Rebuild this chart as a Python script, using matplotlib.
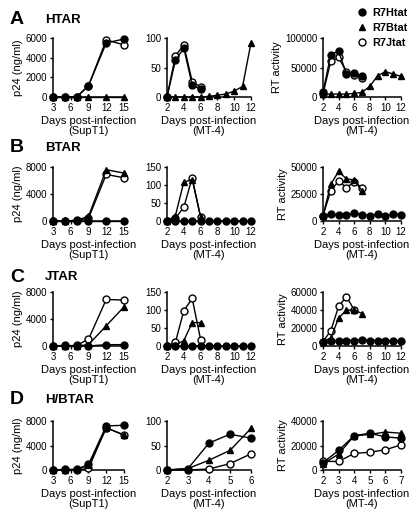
import matplotlib
matplotlib.use('Agg')
import matplotlib.pyplot as plt
from matplotlib.lines import Line2D

plt.rcParams['font.family'] = ['Liberation Sans', 'DejaVu Sans']

# ---- data ----
days_supt1 = [3, 5, 7, 9, 12, 15]
days_mt4 = [2, 3, 4, 5, 6, 7, 8, 9, 10, 11, 12]
days_short = [2, 3, 4, 5, 6]
days_rt7 = [2, 3, 4, 5, 6, 7]

# HTAR
htar_supt1_h = [0, 0, 0, 1150, 5500, 5900]
htar_supt1_b = [0, 0, 0, 0, 0, 0]
htar_supt1_j = [0, 0, 0, 1150, 5800, 5300]
htar_mt4_h = [0, 62, 83, 20, 13]
htar_mt4_j = [0, 70, 88, 26, 17]
htar_mt4_b = [0, 0, 0, 0, 0, 1, 3, 5, 10, 18, 92]
htar_rt_h = [8000, 72000, 78000, 39000, 41000, 35000]
htar_rt_j = [5000, 61000, 67000, 43000, 38000, 33000]
htar_rt_b = [5000, 5000, 5000, 5000, 6000, 8000, 18000, 36000, 43000, 39000, 35000]

# BTAR
btar_supt1_h = [0, 0, 0, 0, 0, 0]
btar_supt1_b = [0, 0, 100, 700, 7600, 7100]
btar_supt1_j = [0, 0, 100, 400, 6900, 6400]
btar_mt4_h = [0, 0, 0, 0, 0, 0, 0, 0, 0, 0, 0]
btar_mt4_b = [0, 15, 108, 115, 12]
btar_mt4_j = [0, 8, 38, 120, 10]
btar_rt_h = [5000, 6500, 5500, 5500, 7000, 6000, 5000, 6500, 4500, 6500, 6000]
btar_rt_b = [5000, 34000, 46000, 39000, 38000, 28000]
btar_rt_j = [5000, 28000, 37000, 31000, 36000, 31000]

# JTAR
jtar_supt1_h = [0, 100, 0, 0, 200, 200]
jtar_supt1_b = [0, 0, 0, 200, 3000, 5800]
jtar_supt1_j = [0, 0, 100, 1000, 6900, 6800]
jtar_mt4_h = [0, 0, 0, 0, 0, 0, 0, 0, 0, 0, 0]
jtar_mt4_b = [0, 3, 15, 65, 65]
jtar_mt4_j = [0, 10, 98, 132, 18]
jtar_rt_h = [5000, 6000, 6000, 6000, 6000, 7000, 6000, 6000, 6000, 5500, 6000]
jtar_rt_b = [5000, 9000, 31000, 40000, 40000, 36000]
jtar_rt_j = [5000, 17000, 44000, 55000, 40000]

# H/BTAR
hbtar_supt1_h = [0, 100, 100, 900, 7200, 7300]
hbtar_supt1_b = [0, 0, 100, 800, 6900, 5700]
hbtar_supt1_j = [0, 0, 0, 250, 6900, 5700]
hbtar_mt4_h = [0, 3, 55, 73, 65]
hbtar_mt4_b = [0, 3, 20, 40, 85]
hbtar_mt4_j = [0, 0, 2, 13, 33]
hbtar_rt_h = [6000, 16000, 28000, 30000, 27000, 26000]
hbtar_rt_b = [5000, 13000, 28000, 29000, 31000, 30000]
hbtar_rt_j = [7000, 7000, 13500, 14500, 16500, 20500]

W, H = 414, 517
fig = plt.figure(figsize=(W / 100, H / 100), dpi=100)


def pos(left, right, top, bottom):
    return [left / W, 1 - bottom / H, (right - left) / W, (bottom - top) / H]


def draw(ax, series, xlim, xticks, ylim, yticks, xlabel, ylabel=None):
    # series: list of (x, y, style)
    for x, y, st in series:
        if st == 'j':
            ax.plot(x, y, 'o-', color='black', mfc='white', mec='black', ms=5,
                    mew=1.0, lw=1.0, clip_on=False, zorder=3)
        elif st == 'b':
            ax.plot(x, y, '^-', color='black', ms=5, lw=1.0, clip_on=False, zorder=4)
        else:
            ax.plot(x, y, 'o-', color='black', ms=5, lw=1.0, clip_on=False, zorder=5)
    ax.set_xlim(xlim)
    ax.set_ylim(ylim)
    ax.set_xticks(xticks)
    ax.set_yticks(yticks)
    ax.spines['top'].set_visible(False)
    ax.spines['right'].set_visible(False)
    for s in ['left', 'bottom']:
        ax.spines[s].set_linewidth(1.1)
    ax.tick_params(labelsize=7, length=2.5, width=1.0, pad=1.5)
    ax.set_xlabel(xlabel, fontsize=8, labelpad=2.5, linespacing=1.0)
    if ylabel:
        ax.set_ylabel(ylabel, fontsize=8, labelpad=2)


rows = [(38, 97), (167, 221), (292, 346), (421, 470)]
cols = [(53, 124), (167, 251), (323, 401)]
titles = [('A', 'HTAR', 20), ('B', 'BTAR', 148), ('C', 'JTAR', 277), ('D', 'H/BTAR', 400)]

lab1 = 'Days post-infection\n(SupT1)'
lab2 = 'Days post-infection\n(MT-4)'

panels = [
    [
        [(days_supt1, htar_supt1_j, 'j'), (days_supt1, htar_supt1_b, 'b'), (days_supt1, htar_supt1_h, 'h')],
        [(days_short, htar_mt4_j, 'j'), (days_mt4, htar_mt4_b, 'b'), (days_short, htar_mt4_h, 'h')],
        [(days_rt7, htar_rt_j, 'j'), (days_mt4, htar_rt_b, 'b'), (days_rt7, htar_rt_h, 'h')],
    ],
    [
        [(days_supt1, btar_supt1_j, 'j'), (days_supt1, btar_supt1_h, 'h'), (days_supt1, btar_supt1_b, 'b')],
        [(days_short, btar_mt4_j, 'j'), (days_short, btar_mt4_b, 'b'), (days_mt4, btar_mt4_h, 'h')],
        [(days_rt7, btar_rt_j, 'j'), (days_rt7, btar_rt_b, 'b'), (days_mt4, btar_rt_h, 'h')],
    ],
    [
        [(days_supt1, jtar_supt1_j, 'j'), (days_supt1, jtar_supt1_b, 'b'), (days_supt1, jtar_supt1_h, 'h')],
        [(days_short, jtar_mt4_j, 'j'), (days_short, jtar_mt4_b, 'b'), (days_mt4, jtar_mt4_h, 'h')],
        [(days_short, jtar_rt_j, 'j'), (days_rt7, jtar_rt_b, 'b'), (days_mt4, jtar_rt_h, 'h')],
    ],
    [
        [(days_supt1, hbtar_supt1_j, 'j'), (days_supt1, hbtar_supt1_b, 'b'), (days_supt1, hbtar_supt1_h, 'h')],
        [(days_short, hbtar_mt4_j, 'j'), (days_short, hbtar_mt4_b, 'b'), (days_short, hbtar_mt4_h, 'h')],
        [(days_rt7, hbtar_rt_j, 'j'), (days_rt7, hbtar_rt_b, 'b'), (days_rt7, hbtar_rt_h, 'h')],
    ],
]

yset = [
    [((0, 6000), [0, 2000, 4000, 6000]), ((0, 100), [0, 50, 100]), ((0, 100000), [0, 50000, 100000])],
    [((0, 8000), [0, 4000, 8000]), ((0, 150), [0, 50, 100, 150]), ((0, 50000), [0, 25000, 50000])],
    [((0, 8000), [0, 4000, 8000]), ((0, 150), [0, 50, 100, 150]), ((0, 60000), [0, 20000, 40000, 60000])],
    [((0, 8000), [0, 4000, 8000]), ((0, 100), [0, 50, 100]), ((0, 40000), [0, 20000, 40000])],
]

for r, (top, bot) in enumerate(rows):
    for c, (left, right) in enumerate(cols):
        ax = fig.add_axes(pos(left, right, top, bot))
        ylim, yt = yset[r][c]
        if c == 0:
            draw(ax, panels[r][c], (3, 15), [3, 6, 9, 12, 15], ylim, yt, lab1, 'p24 (ng/ml)')
        elif c == 1:
            if r == 3:
                draw(ax, panels[r][c], (2, 6), [2, 3, 4, 5, 6], ylim, yt, lab2)
            else:
                draw(ax, panels[r][c], (2, 12), [2, 4, 6, 8, 10, 12], ylim, yt, lab2)
        else:
            if r == 3:
                draw(ax, panels[r][c], (2, 7), [2, 3, 4, 5, 6, 7], ylim, yt, lab2, 'RT activity')
            else:
                draw(ax, panels[r][c], (2, 12), [2, 4, 6, 8, 10, 12], ylim, yt, lab2, 'RT activity')
    letter, name, yc = titles[r]
    fig.text(10 / W, 1 - yc / H, letter, fontsize=14, fontweight='bold', va='center')
    fig.text(45 / W, 1 - yc / H, name, fontsize=9.5, fontweight='bold', va='center')

handles = [
    Line2D([], [], marker='o', color='black', ls='none', ms=5),
    Line2D([], [], marker='^', color='black', ls='none', ms=5),
    Line2D([], [], marker='o', color='black', mfc='white', ls='none', ms=5),
]
fig.legend(handles, ['R7Htat', 'R7Btat', 'R7Jtat'], loc='upper left',
           bbox_to_anchor=(358 / W, 1 - 8 / H), frameon=False, handlelength=0.8,
           handletextpad=0.5, labelspacing=0.45, borderaxespad=0, borderpad=0,
           prop={'size': 7.8, 'weight': 'bold'})

fig.savefig('out.png', dpi=100)
